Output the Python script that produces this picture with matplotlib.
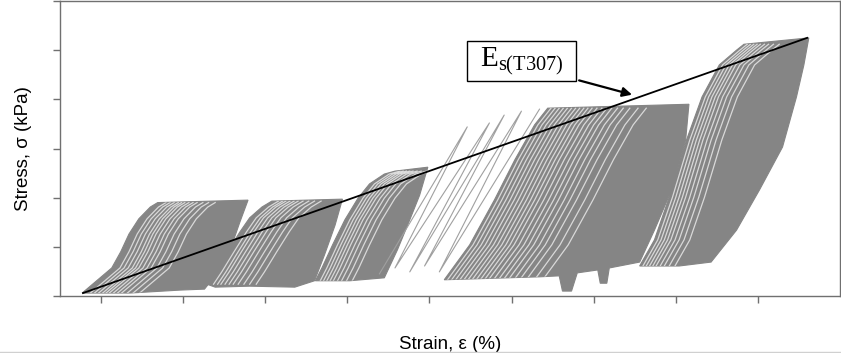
import matplotlib
matplotlib.use("Agg")
import matplotlib.pyplot as plt
from matplotlib.patches import Polygon, Rectangle
from matplotlib.lines import Line2D
import numpy as np

plt.rcParams["font.family"] = ["Liberation Sans", "DejaVu Sans"]

# cyclic stages: (strain %, stress kPa)
# *_load = first-loading edge, *_rest = rest of the envelope (top, unloading edge, bottom)
stage1_load = [(-0.23, 6), (0.13, 57), (0.24, 90), (0.34, 126), (0.46, 157), (0.60, 181), (0.69, 190)]
stage1_rest = [(1.79, 195), (1.69, 150), (1.55, 83), (1.35, 33), (1.26, 14), (0.96, 12), (0.35, 6)]
stage2_load = [(1.29, 24), (1.39, 49), (1.54, 90), (1.69, 130), (1.81, 159), (1.96, 181), (2.08, 193)]
stage2_rest = [(2.94, 197), (2.85, 144), (2.72, 83), (2.60, 31), (2.36, 18), (1.81, 20), (1.39, 18)]
stage3_load = [(2.61, 31), (2.69, 57), (2.82, 104), (2.97, 155), (3.13, 199), (3.27, 228), (3.45, 248), (3.58, 254)]
stage3_rest = [(3.98, 262), (3.88, 205), (3.76, 155), (3.61, 94), (3.45, 37), (3.03, 31)]
stage4_load = [(4.18, 33), (4.49, 104), (4.79, 195), (5.04, 277), (5.28, 348), (5.44, 382)]
stage4_rest = [(7.16, 390), (7.12, 317), (6.95, 216), (6.74, 134), (6.56, 69), (6.19, 57), (6.16, 26),
               (6.08, 26), (6.05, 53), (5.80, 47), (5.73, 10), (5.62, 10), (5.58, 41), (5.34, 39)]
stage5_load = [(6.56, 61), (6.74, 114), (6.92, 201), (7.13, 317), (7.32, 405), (7.53, 470), (7.74, 500), (7.83, 512)]
stage5_rest = [(8.62, 525), (8.56, 470), (8.47, 405), (8.30, 303), (8.02, 216), (7.74, 134), (7.43, 69), (7.04, 61)]

# strain offsets of the individual (lighter) reloading curves inside each stage
stage1_cycles = [0.1, 0.15, 0.2, 0.25, 0.29, 0.33, 0.38, 0.43, 0.48, 0.55, 0.62, 0.7]
stage2_cycles = [0.08, 0.13, 0.17, 0.22, 0.27, 0.32, 0.38, 0.45, 0.52, 0.6]
stage3_cycles = [0.06, 0.1, 0.14, 0.18, 0.22, 0.27, 0.32, 0.38, 0.45]
stage4_cycles = [0.04, 0.09, 0.14, 0.19, 0.24, 0.29, 0.34, 0.39, 0.44, 0.49, 0.54, 0.6, 0.66,
                 0.72, 0.78, 0.85, 0.92, 1.0, 1.1, 1.2]
stage5_cycles = [0.04, 0.08, 0.12, 0.16, 0.2, 0.25, 0.3, 0.36, 0.43]

# sparse early cycles of stage 4 (alternating valley / peak)
stage4_sparse_strain = [3.39, 4.46, 3.58, 4.73, 3.76, 4.91, 3.94, 5.12, 4.12, 5.34]
stage4_sparse_stress = [45, 344, 57, 352, 49, 368, 61, 376, 49, 380]

# secant modulus line
secant_strain = [-0.22, 8.60]
secant_stress = [6, 525]

stages = [
    (stage1_load, stage1_rest, stage1_cycles),
    (stage2_load, stage2_rest, stage2_cycles),
    (stage3_load, stage3_rest, stage3_cycles),
    (stage4_load, stage4_rest, stage4_cycles),
    (stage5_load, stage5_rest, stage5_cycles),
]

fig = plt.figure(figsize=(8.41, 3.53), dpi=100)
ax = fig.add_axes([60 / 841, 57 / 353, 780 / 841, 295 / 353])

gray = "#858585"
for load, rest, cycles in stages:
    env = np.array(load + rest, dtype=float)
    poly = Polygon(env, closed=True, facecolor=gray, edgecolor=gray, lw=0.8, zorder=1)
    ax.add_patch(poly)
    lp = np.array(load, dtype=float)
    for dx in cycles:
        ln, = ax.plot(lp[:, 0] + dx, lp[:, 1], color="#eeeeee", lw=0.9, alpha=0.8, zorder=2)
        ln.set_clip_path(poly)

ax.plot(stage4_sparse_strain, stage4_sparse_stress, color="#a0a0a0", lw=0.8, zorder=2)

ax.plot(secant_strain, secant_stress, color="black", lw=1.3, zorder=4)

# E_s label box + arrow
ax.add_patch(Rectangle((4.46, 437), 1.33, 81, facecolor="white", edgecolor="black", lw=1.0, zorder=5))
ax.text(5.12, 477, r"$\mathregular{E_{s(T307)}}$", fontsize=21, family="Liberation Serif",
        ha="center", va="center", zorder=6)
ax.annotate("", xy=(6.50, 408), xytext=(5.79, 440),
            arrowprops=dict(arrowstyle="-|>", color="black", lw=1.6, mutation_scale=14), zorder=6)

ax.set_xlim(-0.5, 9.0)
ax.set_ylim(0, 600)
ax.set_xticks(range(0, 9))
ax.set_yticks(range(0, 601, 100))
ax.set_xticklabels([])
ax.set_yticklabels([])
ax.tick_params(direction="out", length=5, width=1, color="#707070")
for s in ax.spines.values():
    s.set_color("#707070")
    s.set_linewidth(1.0)

ax.set_ylabel("Stress, \u03c3 (kPa)", fontsize=13.5, labelpad=12)
ax.set_xlabel("Strain, \u03b5 (%)", fontsize=13.5, labelpad=20)

fig.add_artist(Line2D([0, 1], [1.5 / 353, 1.5 / 353], color="#d0d0d0", lw=1))

fig.savefig("out.png", dpi=100)
